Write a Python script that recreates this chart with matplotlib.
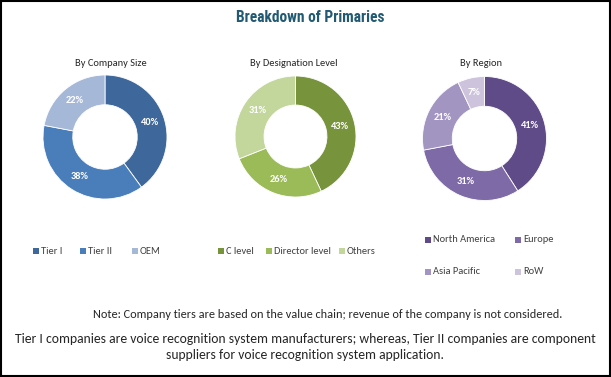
import matplotlib
matplotlib.use("Agg")
import numpy as np
import matplotlib.pyplot as plt
from matplotlib.patches import Rectangle

# Data
size_labels = ["Tier I", "Tier II", "OEM"]
size_values = [40, 38, 22]
desig_labels = ["C level", "Director level", "Others"]
desig_values = [43, 26, 31]
region_labels = ["North America", "Europe", "Asia Pacific", "RoW"]
region_values = [41, 31, 21, 7]

size_colors = ["#3E679B", "#4A7EBB", "#A6B8D8"]
desig_colors = ["#77933C", "#9BBB59", "#C3D69B"]
region_colors = ["#5E4B87", "#7E6AA6", "#A395C2", "#CDC3DC"]

W, H = 611, 377
fig = plt.figure(figsize=(W / 100, H / 100), dpi=100)
fig.patch.set_facecolor("white")

FONT = ["Carlito", "DejaVu Sans"]
TITLE_FONT = ["Roboto Condensed", "DejaVu Sans"]

def px(x, y):
    return x / W, 1 - y / H

# Border
fig.add_artist(Rectangle((0.0015, 0.0025), 0.997, 0.995, transform=fig.transFigure,
                         fill=False, edgecolor="black", linewidth=1.5))

# Title
fig.text(*px(310, 17), "Breakdown of Primaries", ha="center", va="center",
         fontsize=11.2, fontweight="bold", color="#215A72", family=TITLE_FONT)

def donut(cx, cy, r, values, colors, title, title_xy):
    ax = fig.add_axes([(cx - r) / W, (H - cy - r) / H, 2 * r / W, 2 * r / H])
    ax.pie(values, colors=colors, startangle=90, counterclock=False,
           radius=1.0, wedgeprops=dict(width=0.48, edgecolor="white", linewidth=0.6))
    ax.set_xlim(-1, 1)
    ax.set_ylim(-1, 1)
    ax.set_aspect("equal")
    ax.axis("off")
    total = sum(values)
    start = 90
    for v in values:
        ang = start - 360 * v / total / 2
        start -= 360 * v / total
        rr = 0.76
        ax.text(rr * np.cos(np.radians(ang)), rr * np.sin(np.radians(ang)), f"{v}%",
                ha="center", va="center", color="white", fontsize=7.5, fontweight="bold",
                family=FONT)
    fig.text(*px(*title_xy), title, ha="center", va="center", fontsize=7.5,
             color="#262626", family=FONT)

donut(105, 137, 62, size_values, size_colors, "By Company Size", (111, 63))
donut(295.5, 136.5, 60.5, desig_values, desig_colors, "By Designation Level", (294, 63))
donut(484.5, 138.5, 62, region_values, region_colors, "By Region", (481, 63))

def legend_item(x, y, label, color):
    s = 6
    fig.add_artist(Rectangle(((x - s / 2) / W, (H - y - s / 2) / H), s / W, s / H,
                             transform=fig.transFigure, facecolor=color, edgecolor="none"))
    fig.text((x + 5) / W, 1 - y / H, label, ha="left", va="center", fontsize=7.5,
             color="#404040", family=FONT)

for xx, lab, col in zip([36, 83, 135], size_labels, size_colors):
    legend_item(xx, 251, lab, col)
for xx, lab, col in zip([221, 269, 342], desig_labels, desig_colors):
    legend_item(xx, 251, lab, col)
for (xx, yy), lab, col in zip([(428, 240), (518, 240), (428, 272), (518, 272)],
                              region_labels, region_colors):
    legend_item(xx, yy, lab, col)

# Notes
fig.text(*px(328, 315), "Note: Company tiers are based on the value chain; revenue of the company is not considered.",
         ha="center", va="center", fontsize=8.85, color="#262626", family=FONT)
fig.text(*px(305, 339), "Tier I companies are voice recognition system manufacturers; whereas, Tier II companies are component",
         ha="center", va="center", fontsize=9.85, color="#262626", family=FONT)
fig.text(*px(305, 355), "suppliers for voice recognition system application.",
         ha="center", va="center", fontsize=9.85, color="#262626", family=FONT)

fig.savefig("out.png", dpi=100, facecolor="white")
